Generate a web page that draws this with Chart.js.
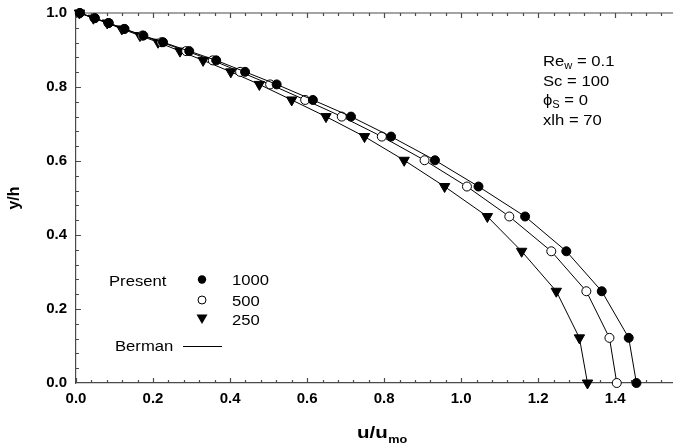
<!DOCTYPE html>
<html>
<head>
<meta charset="utf-8">
<script src="https://cdn.jsdelivr.net/npm/chart.js@4.4.1/dist/chart.umd.min.js"></script>
<style>
  body { margin: 0; background: #fff; }
  canvas { display: block; }
</style>
</head>
<body>
<canvas id="profileChart" width="673" height="447"></canvas>
<script>
// y/h nodes shared by all three runs
const yNodes = [1.000, 0.986, 0.973, 0.957, 0.939, 0.921, 0.897, 0.872, 0.841, 0.807,
                0.765, 0.720, 0.666, 0.602, 0.531, 0.450, 0.356, 0.248, 0.122, 0.000];
// u/u_mo for each case
const u1000 = [0.010, 0.049, 0.085, 0.126, 0.175, 0.226, 0.294, 0.364, 0.439, 0.521,
               0.615, 0.714, 0.818, 0.932, 1.045, 1.166, 1.273, 1.365, 1.435, 1.455];
const u500  = [0.010, 0.048, 0.084, 0.125, 0.172, 0.222, 0.286, 0.355, 0.426, 0.504,
               0.595, 0.690, 0.794, 0.905, 1.015, 1.125, 1.234, 1.325, 1.385, 1.404];
const u250  = [0.009, 0.045, 0.081, 0.119, 0.166, 0.213, 0.270, 0.330, 0.402, 0.476,
               0.560, 0.649, 0.749, 0.852, 0.957, 1.068, 1.157, 1.247, 1.307, 1.328];

const caseLabels = ['1000', '500', '250'];
const xTickValues = [0, 0.2, 0.4, 0.6, 0.8, 1.0, 1.2, 1.4];
const yTickValues = [0, 0.2, 0.4, 0.6, 0.8, 1.0];
const minorStep = 0.04;

const FONT = "'Liberation Sans', Arial, Helvetica, sans-serif";
const AXIS = '#4a4a4a';

function pts(xs) {
    return xs.map((x, i) => ({ x: x, y: yNodes[i] }));
}

// text with a slight horizontal stretch, like the original figure
function sText(ctx, txt, x, y, size, bold, sx) {
    ctx.save();
    ctx.font = (bold ? 'bold ' : '') + size + 'px ' + FONT;
    ctx.translate(x, y);
    ctx.scale(sx, 1);
    ctx.fillText(txt, 0, 0);
    const w = ctx.measureText(txt).width * sx;
    ctx.restore();
    return w;
}

const tickPlugin = {
    id: 'innerTicks',
    beforeDatasetsDraw(chart) {
        const { ctx, chartArea: a, scales: { x, y } } = chart;
        ctx.save();
        ctx.strokeStyle = AXIS;
        ctx.lineWidth = 1.2;
        // top frame line
        ctx.beginPath();
        ctx.moveTo(a.left, a.top);
        ctx.lineTo(a.right, a.top);
        ctx.stroke();
        ctx.beginPath();
        for (let i = 0; i * minorStep <= x.max + 1e-9; i++) {
            const v = i * minorStep;
            const px = Math.round(x.getPixelForValue(v)) + 0.5;
            const len = (i % 5 === 0) ? 5 : 3;
            ctx.moveTo(px, a.bottom);
            ctx.lineTo(px, a.bottom - len);
            ctx.moveTo(px, a.top);
            ctx.lineTo(px, a.top + len);
        }
        for (let i = 1; i * minorStep <= y.max + 1e-9; i++) {
            const v = i * minorStep;
            const py = Math.round(y.getPixelForValue(v)) + 0.5;
            const len = (i % 5 === 0) ? 5 : 3;
            ctx.moveTo(a.left, py);
            ctx.lineTo(a.left + len, py);
        }
        ctx.stroke();
        ctx.restore();
    },
    afterDraw(chart) {
        const { ctx } = chart;
        ctx.save();
        ctx.fillStyle = '#000';
        ctx.textBaseline = 'alphabetic';
        const sx = 1.11;

        // parameter box
        let tx = 543, w;
        w = sText(ctx, 'Re', tx, 66, 15, false, sx);
        w += sText(ctx, 'w', tx + w, 69, 10, false, sx);
        sText(ctx, ' = 0.1', tx + w, 66, 15, false, sx);
        sText(ctx, 'Sc = 100', tx, 86, 15, false, sx);
        w = sText(ctx, '\u03D5', tx, 105, 15, false, sx);
        w += sText(ctx, 'S', tx + w, 108, 10, false, sx);
        sText(ctx, ' = 0', tx + w, 105, 15, false, sx);
        sText(ctx, 'xlh = 70', tx, 125, 15, false, sx);

        // legend
        sText(ctx, 'Present', 109, 286, 15, false, sx);
        const lx = 202;
        ctx.lineWidth = 1;
        ctx.strokeStyle = '#000';
        ctx.beginPath();
        ctx.arc(lx, 279.5, 4.2, 0, Math.PI * 2);
        ctx.fill();
        ctx.beginPath();
        ctx.fillStyle = '#fff';
        ctx.arc(lx, 300, 4, 0, Math.PI * 2);
        ctx.fill();
        ctx.stroke();
        ctx.fillStyle = '#000';
        ctx.beginPath();
        ctx.moveTo(lx - 5.5, 314.5);
        ctx.lineTo(lx + 5.5, 314.5);
        ctx.lineTo(lx, 324);
        ctx.closePath();
        ctx.fill();
        sText(ctx, caseLabels[0], 232, 285, 15, false, sx);
        sText(ctx, caseLabels[1], 232, 306, 15, false, sx);
        sText(ctx, caseLabels[2], 232, 325, 15, false, sx);
        sText(ctx, 'Berman', 115, 351, 15, false, sx);
        ctx.beginPath();
        ctx.moveTo(183, 346.5);
        ctx.lineTo(222, 346.5);
        ctx.stroke();

        // x axis title with subscript
        w = sText(ctx, 'u/u', 357, 437.5, 16, true, 1.28);
        sText(ctx, 'mo', 357 + w + 0.5, 443, 11, true, 1.15);
        ctx.restore();
    }
};

const common = {
    showLine: true,
    borderColor: '#000',
    borderWidth: 1,
    pointBorderColor: '#000',
    pointBorderWidth: 1,
    tension: 0,
    clip: false
};

new Chart(document.getElementById('profileChart').getContext('2d'), {
    type: 'scatter',
    data: {
        datasets: [
            Object.assign({ label: caseLabels[0], data: pts(u1000), pointStyle: 'circle',
                pointRadius: 4.5, pointBackgroundColor: '#000' }, common),
            Object.assign({ label: caseLabels[1], data: pts(u500), pointStyle: 'circle',
                pointRadius: 4.5, pointBackgroundColor: '#fff' }, common),
            Object.assign({ label: caseLabels[2], data: pts(u250), pointStyle: 'triangle',
                rotation: 180, pointRadius: 6, pointBackgroundColor: '#000' }, common)
        ]
    },
    options: {
        responsive: false,
        animation: false,
        devicePixelRatio: 1,
        layout: { autoPadding: false, padding: { top: 13, right: 0, left: 0, bottom: 0 } },
        plugins: {
            legend: { display: false },
            tooltip: { enabled: false }
        },
        scales: {
            x: {
                type: 'linear',
                min: 0,
                max: 1.55,
                afterBuildTicks: s => { s.ticks = xTickValues.map(v => ({ value: v })); },
                afterFit: s => {
                    s.height = 64;
                    s.paddingLeft = 0;
                    s.paddingRight = 0;
                },
                grid: { display: false, drawTicks: false },
                border: { display: true, color: AXIS, width: 1.2 },
                ticks: {
                    padding: 7,
                    color: '#000',
                    maxRotation: 0,
                    font: { family: FONT, size: 15, weight: 'bold' },
                    callback: v => v.toFixed(1)
                }
            },
            y: {
                type: 'linear',
                min: 0,
                max: 1.0,
                afterBuildTicks: s => { s.ticks = yTickValues.map(v => ({ value: v })); },
                afterFit: s => {
                    s.width = 76;
                    s.paddingTop = 0;
                    s.paddingBottom = 0;
                },
                grid: { display: false, drawTicks: false },
                border: { display: true, color: AXIS, width: 1.2 },
                ticks: {
                    padding: 9,
                    color: '#000',
                    font: { family: FONT, size: 15, weight: 'bold' },
                    callback: v => v.toFixed(1)
                },
                title: {
                    display: true,
                    text: 'y/h',
                    color: '#000',
                    padding: { top: 5, bottom: 0 },
                    font: { family: FONT, size: 16, weight: 'bold' }
                }
            }
        }
    },
    plugins: [tickPlugin]
});
</script>
</body>
</html>
